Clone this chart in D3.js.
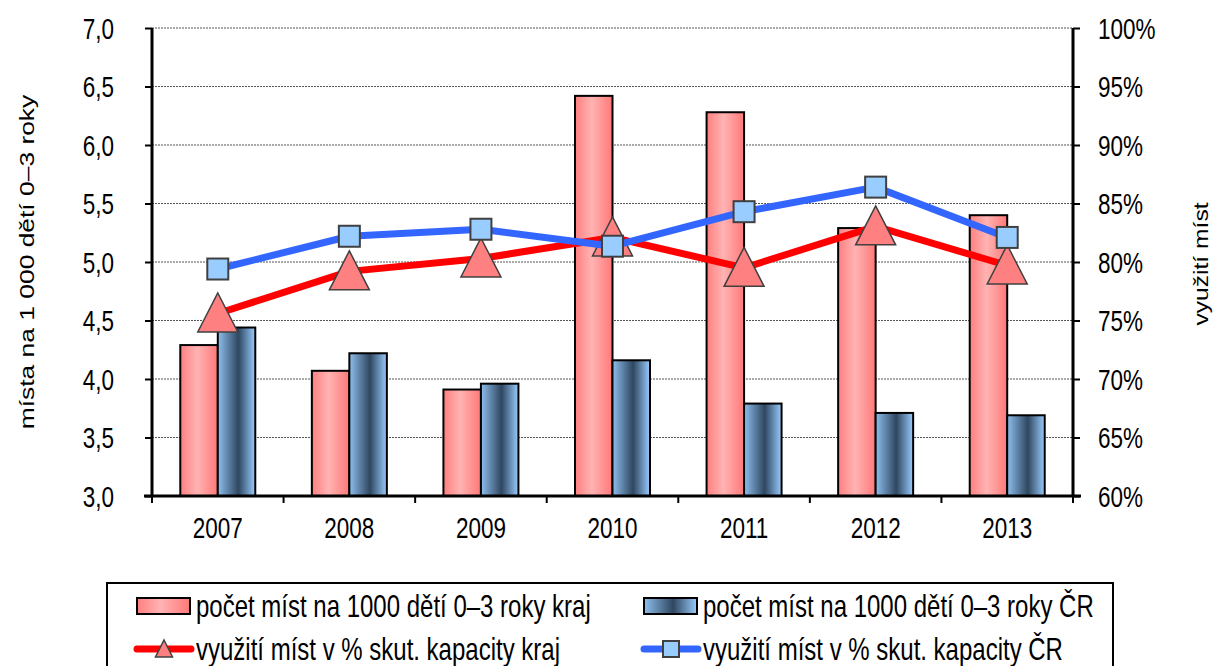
<!DOCTYPE html>
<html>
<head>
<meta charset="utf-8">
<script src="https://cdn.jsdelivr.net/npm/d3@7"></script>
<style>
  html, body { margin: 0; padding: 0; background: #fff; }
  svg { display: block; font-family: "Liberation Sans", Arial, sans-serif; }
</style>
</head>
<body>
<svg id="chart" width="1214" height="666"></svg>
<script>
// ---- data ----
const years = ["2007", "2008", "2009", "2010", "2011", "2012", "2013"];
const placesKraj = [4.29, 4.07, 3.91, 6.42, 6.28, 5.29, 5.40];
const placesCR   = [4.44, 4.22, 3.96, 4.16, 3.79, 3.71, 3.69];
const usageKraj  = [75.6, 79.2, 80.3, 82.1, 79.5, 83.05, 79.7];
const usageCR    = [79.4, 82.2, 82.8, 81.35, 84.3, 86.4, 82.1];
const leftTicks  = [3.0, 3.5, 4.0, 4.5, 5.0, 5.5, 6.0, 6.5, 7.0];
const rightTicks = [60, 65, 70, 75, 80, 85, 90, 95, 100];
const legendLabels = [
  "počet míst na 1000 dětí 0–3 roky kraj",
  "počet míst na 1000 dětí 0–3 roky ČR",
  "využití míst v % skut. kapacity kraj",
  "využití míst v % skut. kapacity ČR"
];
const leftTitle = "místa na 1 000 dětí 0–3 roky";
const rightTitle = "využití míst";

// ---- layout ----
const svg = d3.select("#chart");
const plot = { left: 152, right: 1073, top: 28, bottom: 496 };
const SY = 1.27; // glyphs in the reference are drawn tall and narrow

const x = d3.scaleBand().domain(years).range([plot.left, plot.right]).padding(0);
const yL = d3.scaleLinear().domain([3, 7]).range([plot.bottom, plot.top]);
const yR = d3.scaleLinear().domain([60, 100]).range([plot.bottom, plot.top]);
const bw = x.bandwidth() * 0.285;
const cx = d => x(d) + x.bandwidth() / 2;

// stretch horizontal text vertically about its anchor point
function stretch(sel) {
  sel.each(function () {
    const t = d3.select(this);
    const tx = +t.attr("x") || 0, ty = +t.attr("y") || 0;
    t.attr("x", 0).attr("y", 0).attr("transform", `translate(${tx},${ty}) scale(1,${SY})`);
  });
}

// gradients
const defs = svg.append("defs");
const gRed = defs.append("linearGradient").attr("id", "gRed").attr("x1", "0").attr("x2", "1").attr("y1", "0").attr("y2", "0");
[[0, "#ff7f7f"], [0.45, "#ffb3b3"], [1, "#ff7878"]].forEach(([o, c]) => gRed.append("stop").attr("offset", o).attr("stop-color", c));
const gBlue = defs.append("linearGradient").attr("id", "gBlue").attr("x1", "0").attr("x2", "1").attr("y1", "0").attr("y2", "0");
[[0, "#8ebfee"], [0.55, "#2f4760"], [1, "#99ccff"]].forEach(([o, c]) => gBlue.append("stop").attr("offset", o).attr("stop-color", c));

// gridlines
svg.append("g").selectAll("line").data(leftTicks.slice(1)).join("line")
  .attr("x1", plot.left).attr("x2", plot.right)
  .attr("y1", d => yL(d)).attr("y2", d => yL(d))
  .attr("stroke", "#555").attr("stroke-width", 1).attr("stroke-dasharray", "2,1");

// bars
svg.append("g").selectAll("rect").data(years).join("rect")
  .attr("x", d => cx(d) - bw).attr("width", bw)
  .attr("y", (d, i) => yL(placesKraj[i])).attr("height", (d, i) => plot.bottom - yL(placesKraj[i]))
  .attr("fill", "url(#gRed)").attr("stroke", "#000").attr("stroke-width", 2);
svg.append("g").selectAll("rect").data(years).join("rect")
  .attr("x", d => cx(d)).attr("width", bw)
  .attr("y", (d, i) => yL(placesCR[i])).attr("height", (d, i) => plot.bottom - yL(placesCR[i]))
  .attr("fill", "url(#gBlue)").attr("stroke", "#000").attr("stroke-width", 2);

// axes
const axL = d3.axisLeft(yL).tickValues(leftTicks).tickSize(7).tickPadding(31)
  .tickFormat(d => d3.format(".1f")(d).replace(".", ","));
const gL = svg.append("g").attr("transform", `translate(${plot.left},0)`).call(axL);
const axR = d3.axisRight(yR).tickValues(rightTicks).tickSize(7).tickPadding(18)
  .tickFormat(d => d + "%");
const gR = svg.append("g").attr("transform", `translate(${plot.right},0)`).call(axR);
const axB = d3.axisBottom(x).tickSize(0).tickPadding(32);
const gB = svg.append("g").attr("transform", `translate(0,${plot.bottom})`).call(axB);
// category boundary ticks
const bounds = years.map(d => x(d)).concat([plot.right]);
svg.append("g").selectAll("line").data(bounds).join("line")
  .attr("x1", d => d).attr("x2", d => d).attr("y1", plot.bottom).attr("y2", plot.bottom + 7)
  .attr("stroke", "#000").attr("stroke-width", 2);

[gL, gR, gB].forEach(g => {
  g.select(".domain").attr("stroke", "#000").attr("stroke-width", 3);
  g.selectAll(".tick line").attr("stroke", "#000").attr("stroke-width", 2);
  g.selectAll(".tick text").attr("fill", "#000").attr("font-size", 22.5)
    .attr("font-family", "'Liberation Sans', Arial, sans-serif").attr("dy", "0.35em");
  stretch(g.selectAll(".tick text"));
});
gL.select(".domain").attr("d", `M0,${plot.top}V${plot.bottom}`);
gR.select(".domain").attr("d", `M0,${plot.top}V${plot.bottom}`);
gB.select(".domain").attr("d", `M${plot.left - 8},0H${plot.right + 8}`);

// axis titles (rotated: stretched along their length)
svg.append("text").attr("transform", `translate(27,262) rotate(-90) scale(${SY * 1.04},1)`)
  .attr("text-anchor", "middle").attr("dy", "0.35em").attr("font-size", 20).text(leftTitle);
svg.append("text").attr("transform", `translate(1201,264) rotate(-90) scale(${SY * 0.97},1)`)
  .attr("text-anchor", "middle").attr("dy", "0.35em").attr("font-size", 20).text(rightTitle);

// lines
const lineGen = d3.line().x(d => cx(d[0])).y(d => yR(d[1]));
const triPath = "M0,-20L20,19L-20,19Z";
function drawLine(vals, color, marker) {
  const pts = years.map((d, i) => [d, vals[i]]);
  svg.append("path").datum(pts).attr("d", lineGen).attr("fill", "none")
    .attr("stroke", color).attr("stroke-width", 7).attr("stroke-linejoin", "round");
  const g = svg.append("g");
  if (marker === "tri") {
    g.selectAll("path").data(pts).join("path")
      .attr("transform", d => `translate(${cx(d[0])},${yR(d[1]) - 0.5})`)
      .attr("d", triPath).attr("fill", "#ff8080").attr("stroke", "#404040").attr("stroke-width", 1.5);
  } else {
    g.selectAll("rect").data(pts).join("rect")
      .attr("x", d => cx(d[0]) - 10.5).attr("y", d => yR(d[1]) - 10.5)
      .attr("width", 21).attr("height", 21)
      .attr("fill", "#99ccff").attr("stroke", "#404040").attr("stroke-width", 2);
  }
}
drawLine(usageKraj, "#ff0000", "tri");
drawLine(usageCR, "#3366ff", "sq");

// legend
const lg = svg.append("g");
lg.append("rect").attr("x", 107).attr("y", 583).attr("width", 1006).attr("height", 110)
  .attr("fill", "#fff").attr("stroke", "#000").attr("stroke-width", 2);
const cols = [137, 644];
const rows = [606, 649];
// bar swatches
lg.append("rect").attr("x", cols[0]).attr("y", rows[0] - 8).attr("width", 53).attr("height", 16)
  .attr("fill", "url(#gRed)").attr("stroke", "#000").attr("stroke-width", 2);
lg.append("rect").attr("x", cols[1]).attr("y", rows[0] - 8).attr("width", 53).attr("height", 16)
  .attr("fill", "url(#gBlue)").attr("stroke", "#000").attr("stroke-width", 2);
// line swatches
lg.append("line").attr("x1", cols[0]).attr("x2", cols[0] + 54).attr("y1", rows[1]).attr("y2", rows[1])
  .attr("stroke", "#ff0000").attr("stroke-width", 7).attr("stroke-linecap", "round");
lg.append("path").attr("transform", `translate(${cols[0] + 27},${rows[1]})`)
  .attr("d", "M0,-9L8.5,8L-8.5,8Z").attr("fill", "#ff8080").attr("stroke", "#404040").attr("stroke-width", 1.5);
lg.append("line").attr("x1", cols[1]).attr("x2", cols[1] + 54).attr("y1", rows[1]).attr("y2", rows[1])
  .attr("stroke", "#3366ff").attr("stroke-width", 7).attr("stroke-linecap", "round");
lg.append("rect").attr("x", cols[1] + 27 - 8).attr("y", rows[1] - 8).attr("width", 16).attr("height", 16)
  .attr("fill", "#99ccff").attr("stroke", "#404040").attr("stroke-width", 2);
// legend texts
const lpos = [[cols[0] + 59, rows[0]], [cols[1] + 59, rows[0]], [cols[0] + 59, rows[1]], [cols[1] + 59, rows[1]]];
const lt = lg.selectAll("text.lt").data(legendLabels).join("text").attr("class", "lt")
  .attr("x", (d, i) => lpos[i][0]).attr("y", (d, i) => lpos[i][1])
  .attr("dy", "0.35em").attr("font-size", 24).text(d => d);
stretch(lt);
</script>
</body>
</html>
